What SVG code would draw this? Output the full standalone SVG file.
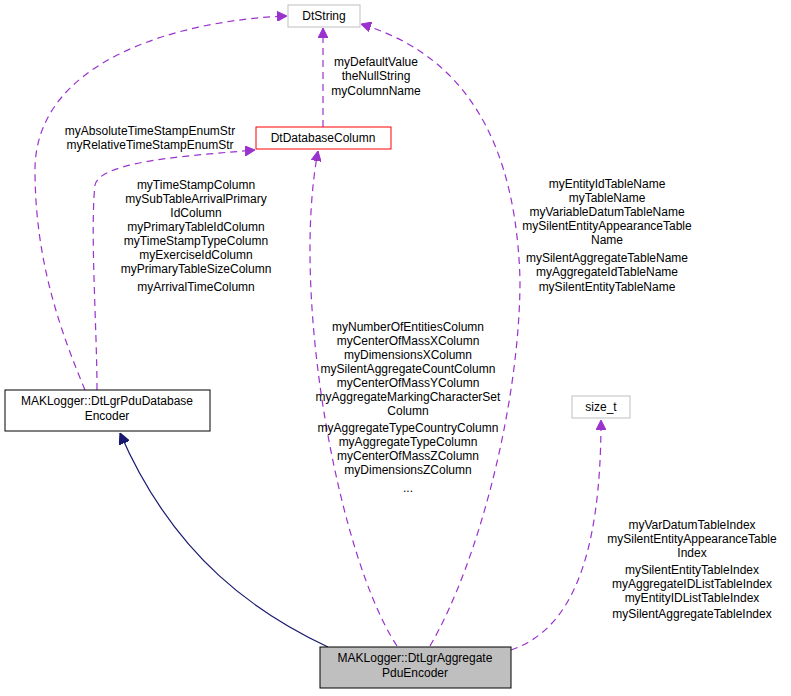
<svg xmlns="http://www.w3.org/2000/svg" width="791" height="696" viewBox="0 0 791 696">
<style>
text{font-family:"Liberation Sans",Arial,sans-serif;font-size:12px;fill:#000}
.l{text-anchor:middle}
.d{fill:none;stroke:#9a32cd;stroke-dasharray:7,5;stroke-width:1.2}
.box{fill:#fff}
</style>
<defs>
<marker id="p" viewBox="0 0 10 10" refX="10" refY="5" markerWidth="10" markerHeight="10" orient="auto" markerUnits="userSpaceOnUse"><path d="M0,0L10,5L0,10z" fill="#9a32cd" stroke="#9a32cd"/></marker>
<marker id="n" viewBox="0 0 10 10" refX="10" refY="5" markerWidth="11" markerHeight="11" orient="auto" markerUnits="userSpaceOnUse"><path d="M0,0L10,5L0,10z" fill="#191970" stroke="#191970"/></marker>
</defs>
<rect width="791" height="696" fill="#fff"/>
<g id="connectors">
<path d="M328,647C260,615 175,560 120,433" fill="none" stroke="#191970" stroke-width="1.2" marker-end="url(#n)"/>
<path class="d" d="M85,390C60,330 35,260 35,170C35,60 180,20 287,16" marker-end="url(#p)"/>
<path class="d" d="M97,390C97,330 90,230 95,185C100,160 200,155 255,150" marker-end="url(#p)"/>
<path class="d" d="M323,127L323,28" marker-end="url(#p)"/>
<path class="d" d="M397,646C340,560 290,300 318,151" marker-end="url(#p)"/>
<path class="d" d="M430,646C480,560 520,400 520,280C515,100 430,45 361,24" marker-end="url(#p)"/>
<path class="d" d="M511,650C570,630 601,560 601,420" marker-end="url(#p)"/>
</g>
<g id="labels">
<text class="l" x="150" y="135">myAbsoluteTimeStampEnumStr</text>
<text class="l" x="150" y="149">myRelativeTimeStampEnumStr</text>
<text class="l" x="196" y="189">myTimeStampColumn</text>
<text class="l" x="196" y="203">mySubTableArrivalPrimary</text>
<text class="l" x="196" y="217">IdColumn</text>
<text class="l" x="196" y="231">myPrimaryTableIdColumn</text>
<text class="l" x="196" y="245">myTimeStampTypeColumn</text>
<text class="l" x="196" y="259">myExerciseIdColumn</text>
<text class="l" x="196" y="273">myPrimaryTableSizeColumn</text>
<text class="l" x="196" y="291">myArrivalTimeColumn</text>
<text class="l" x="376" y="66">myDefaultValue</text>
<text class="l" x="376" y="80">theNullString</text>
<text class="l" x="376" y="95">myColumnName</text>
<text class="l" x="408" y="331">myNumberOfEntitiesColumn</text>
<text class="l" x="408" y="345">myCenterOfMassXColumn</text>
<text class="l" x="408" y="359">myDimensionsXColumn</text>
<text class="l" x="408" y="373">mySilentAggregateCountColumn</text>
<text class="l" x="408" y="387">myCenterOfMassYColumn</text>
<text class="l" x="408" y="401">myAggregateMarkingCharacterSet</text>
<text class="l" x="408" y="415">Column</text>
<text class="l" x="408" y="432">myAggregateTypeCountryColumn</text>
<text class="l" x="408" y="446">myAggregateTypeColumn</text>
<text class="l" x="408" y="460">myCenterOfMassZColumn</text>
<text class="l" x="408" y="474">myDimensionsZColumn</text>
<text class="l" x="408" y="492">...</text>
<text class="l" x="607" y="188">myEntityIdTableName</text>
<text class="l" x="607" y="202">myTableName</text>
<text class="l" x="607" y="216">myVariableDatumTableName</text>
<text class="l" x="607" y="230">mySilentEntityAppearanceTable</text>
<text class="l" x="607" y="244">Name</text>
<text class="l" x="607" y="262">mySilentAggregateTableName</text>
<text class="l" x="607" y="276">myAggregateIdTableName</text>
<text class="l" x="607" y="291">mySilentEntityTableName</text>
<text class="l" x="692" y="529">myVarDatumTableIndex</text>
<text class="l" x="692" y="543">mySilentEntityAppearanceTable</text>
<text class="l" x="692" y="557">Index</text>
<text class="l" x="692" y="574">mySilentEntityTableIndex</text>
<text class="l" x="692" y="588">myAggregateIDListTableIndex</text>
<text class="l" x="692" y="602">myEntityIDListTableIndex</text>
<text class="l" x="692" y="618">mySilentAggregateTableIndex</text>
</g>
<g id="DtString"><rect class="box" x="288" y="5" width="72" height="22" stroke="#bfbfbf"/><text class="l" x="324" y="20">DtString</text></g>
<g id="DtDatabaseColumn"><rect class="box" x="256" y="127" width="135" height="22" stroke="#ff0000"/><text class="l" x="323" y="142">DtDatabaseColumn</text></g>
<g id="DtLgrPduDatabaseEncoder"><rect class="box" x="5" y="390" width="205" height="41" stroke="#000"/><text class="l" x="107" y="405">MAKLogger::DtLgrPduDatabase</text><text class="l" x="107" y="420">Encoder</text></g>
<g id="size_t"><rect class="box" x="572" y="396" width="58" height="22" stroke="#bfbfbf"/><text class="l" x="601" y="411">size_t</text></g>
<g id="DtLgrAggregatePduEncoder"><rect x="320" y="647" width="191" height="41" fill="#bfbfbf" stroke="#000"/><text class="l" x="415" y="662">MAKLogger::DtLgrAggregate</text><text class="l" x="415" y="677">PduEncoder</text></g>
</svg>
